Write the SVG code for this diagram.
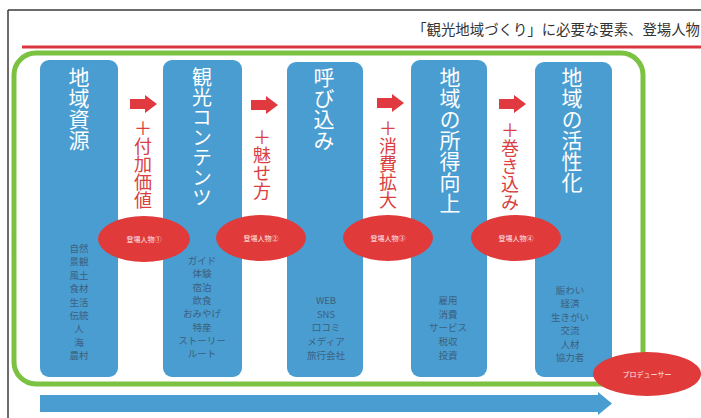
<svg xmlns="http://www.w3.org/2000/svg" width="701" height="418" viewBox="0 0 701 418">
<defs>
<style>
.jp{font-family:"Noto Sans CJK JP","Noto Sans CJK SC",sans-serif;}
.col{fill:#4a9dd0;}
.ttl{fill:#ffffff;font-size:21px;writing-mode:vertical-rl;}
.red{fill:#d9403f;font-size:18px;writing-mode:vertical-rl;}
.small{fill:#3a5670;font-size:9.5px;text-anchor:middle;opacity:0.85;}
.ell{fill:#e03a3a;}
.etxt{fill:#ffe8e8;font-size:7px;text-anchor:middle;}
.rarr{fill:#e0393f;}
</style>
<polygon id="ra" points="0,-5 15,-5 15,-9 27,0 15,9 15,5 0,5"/>
</defs>
<rect width="701" height="418" fill="#ffffff"/>
<line x1="8" y1="10" x2="701" y2="10" stroke="#3a3a3a" stroke-width="1.5"/>
<line x1="8" y1="10" x2="8" y2="418" stroke="#3a3a3a" stroke-width="1.5"/>
<text class="jp" x="700" y="35" font-size="14.4" fill="#333333" text-anchor="end">「観光地域づくり」に必要な要素、登場人物</text>
<line x1="22" y1="47" x2="701" y2="47" stroke="#d9373f" stroke-width="3"/>
<rect x="14" y="53" width="629" height="331" rx="22" fill="none" stroke="#7cc242" stroke-width="5"/>

<g id="node-chiikishigen">
<rect class="col" x="40" y="60" width="78" height="317" rx="9"/>
<text class="jp ttl" x="79" y="67">地域資源</text>
<text class="jp small" x="79" y="252">自然<tspan x="79" dy="13.4">景観</tspan><tspan x="79" dy="13.4">風土</tspan><tspan x="79" dy="13.4">食材</tspan><tspan x="79" dy="13.4">生活</tspan><tspan x="79" dy="13.4">伝統</tspan><tspan x="79" dy="13.4">人</tspan><tspan x="79" dy="13.4">海</tspan><tspan x="79" dy="13.4">農村</tspan></text>
</g>
<g id="node-kankocontents">
<rect class="col" x="163" y="60" width="79" height="317" rx="9"/>
<text class="jp ttl" x="202" y="67" style="font-size:20px">観光コンテンツ</text>
<text class="jp small" x="202" y="264">ガイド<tspan x="202" dy="13.3">体験</tspan><tspan x="202" dy="13.3">宿泊</tspan><tspan x="202" dy="13.3">飲食</tspan><tspan x="202" dy="13.3">おみやげ</tspan><tspan x="202" dy="13.3">特産</tspan><tspan x="202" dy="13.3">ストーリー</tspan><tspan x="202" dy="13.3">ルート</tspan></text>
</g>
<g id="node-yobikomi">
<rect class="col" x="287" y="62" width="76" height="315" rx="9"/>
<text class="jp ttl" x="324" y="67">呼び込み</text>
<text class="jp small" x="326" y="304">WEB<tspan x="326" dy="13.7">SNS</tspan><tspan x="326" dy="13.7">口コミ</tspan><tspan x="326" dy="13.7">メディア</tspan><tspan x="326" dy="13.7">旅行会社</tspan></text>
</g>
<g id="node-shotoku">
<rect class="col" x="411" y="60" width="76" height="317" rx="9"/>
<text class="jp ttl" x="450" y="67">地域の所得向上</text>
<text class="jp small" x="448" y="304">雇用<tspan x="448" dy="13.7">消費</tspan><tspan x="448" dy="13.7">サービス</tspan><tspan x="448" dy="13.7">税収</tspan><tspan x="448" dy="13.7">投資</tspan></text>
</g>
<g id="node-kasseika">
<rect class="col" x="535" y="62" width="77" height="315" rx="9"/>
<text class="jp ttl" x="572" y="67">地域の活性化</text>
<text class="jp small" x="570" y="294">賑わい<tspan x="570" dy="13.4">経済</tspan><tspan x="570" dy="13.4">生きがい</tspan><tspan x="570" dy="13.4">交流</tspan><tspan x="570" dy="13.4">人材</tspan><tspan x="570" dy="13.4">協力者</tspan></text>
</g>

<g id="connectors">
<use href="#ra" class="rarr" transform="translate(130,104)"/>
<use href="#ra" class="rarr" transform="translate(251,105)"/>
<use href="#ra" class="rarr" transform="translate(377,103)"/>
<use href="#ra" class="rarr" transform="translate(499,104)"/>
<text class="jp red" x="143" y="119">＋付加価値</text>
<text class="jp red" x="262" y="128">＋魅せ方</text>
<text class="jp red" x="388" y="119">＋消費拡大</text>
<text class="jp red" x="510" y="121">＋巻き込み</text>
<polygon points="40,395 598,395 598,392 612,403.5 598,415 598,412 40,412" fill="#4a9dd0"/>
</g>

<g id="node-actor1">
<ellipse class="ell" cx="144" cy="239" rx="46" ry="23"/>
<text class="jp etxt" x="144" y="242">登場人物①</text>
</g>
<g id="node-actor2">
<ellipse class="ell" cx="261" cy="238" rx="45" ry="23"/>
<text class="jp etxt" x="261" y="241">登場人物②</text>
</g>
<g id="node-actor3">
<ellipse class="ell" cx="388" cy="238" rx="45" ry="23"/>
<text class="jp etxt" x="388" y="241">登場人物③</text>
</g>
<g id="node-actor4">
<ellipse class="ell" cx="516" cy="238" rx="45" ry="23"/>
<text class="jp etxt" x="516" y="241">登場人物④</text>
</g>
<g id="node-producer">
<ellipse class="ell" cx="647" cy="374" rx="54" ry="22"/>
<text class="jp etxt" x="647" y="377">プロデューサー</text>
</g>
</svg>
